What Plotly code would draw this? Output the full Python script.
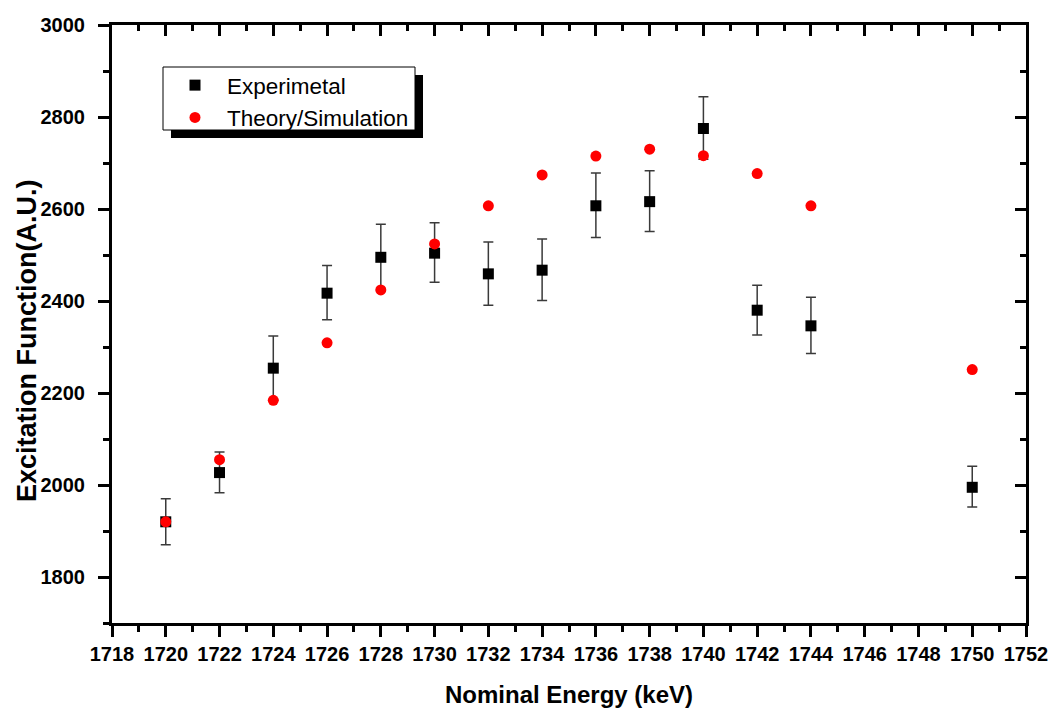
import plotly.graph_objects as go

energy_exp = [1720, 1722, 1724, 1726, 1728, 1730, 1732, 1734, 1736, 1738, 1740, 1742, 1744, 1750]
exp_values = [1920, 2027, 2254, 2417, 2495, 2504, 2459, 2467, 2607, 2616, 2775, 2380, 2346, 1995]
exp_err_plus = [50, 45, 70, 60, 72, 66, 69, 68, 71, 67, 69, 54, 62, 46]
exp_err_minus = [50, 44, 69, 58, 71, 63, 68, 66, 69, 65, 67, 54, 60, 43]

energy_sim = [1720, 1722, 1724, 1726, 1728, 1730, 1732, 1734, 1736, 1738, 1740, 1742, 1744, 1750]
sim_values = [1920, 2055, 2184, 2309, 2424, 2524, 2607, 2674, 2715, 2730, 2716, 2677, 2607, 2251]

x_ticks = list(range(1718, 1753, 2))
y_ticks = list(range(1800, 3001, 200))
x_range = [1718, 1752]
y_range = [1700, 3000]

FONT = "Liberation Sans, Arial, sans-serif"
L, R, T, B = 112, 25, 25, 86
W, H = 1051, 709
PW, PH = W - L - R, H - T - B


def px_x(p):
    return (p - L) / PW


def px_y(p):
    return 1 - (p - T) / PH


fig = go.Figure()
fig.add_trace(go.Scatter(
    x=energy_exp, y=exp_values, mode="markers", name="Experimetal",
    legendgroup="a",
    marker=dict(symbol="square", size=11, color="black"),
    error_y=dict(type="data", array=exp_err_plus, arrayminus=exp_err_minus,
                 color="#3a3a3a", thickness=1.5, width=5),
))
fig.add_trace(go.Scatter(
    x=energy_sim, y=sim_values, mode="markers", name="Theory/Simulation",
    legendgroup="b",
    marker=dict(symbol="circle", size=11, color="#ff0000"),
))
# empty trace so the mirrored top/right axes get drawn
fig.add_trace(go.Scatter(x=[], y=[], xaxis="x2", yaxis="y2", showlegend=False,
                         hoverinfo="skip", mode="markers"))

axis_common = dict(showgrid=False, zeroline=False, showline=True, linecolor="black",
                   linewidth=3, tickcolor="black", tickwidth=3, ticklen=11, automargin=False)

fig.update_layout(
    width=W, height=H,
    margin=dict(l=L, r=R, t=T, b=B),
    paper_bgcolor="white", plot_bgcolor="white",
    font=dict(family=FONT, color="black"),
    xaxis=dict(range=x_range, tickvals=x_ticks, ticks="outside",
               minor=dict(dtick=1, tick0=1718, ticks="outside", ticklen=6, tickwidth=3, tickcolor="black"),
               tickfont=dict(family=FONT, size=20, weight="bold"),
               ticklabelstandoff=0,
               title=dict(text="Nominal Energy (keV)", font=dict(family=FONT, size=24, weight="bold"),
                          standoff=23),
               **axis_common),
    yaxis=dict(range=y_range, tickvals=y_ticks, ticks="outside",
               minor=dict(dtick=100, tick0=1700, ticks="outside", ticklen=6, tickwidth=3, tickcolor="black"),
               tickfont=dict(family=FONT, size=20, weight="bold"),
               ticklabelstandoff=9,
               **axis_common),
    xaxis2=dict(range=x_range, overlaying="x", side="top", anchor="y",
                tickvals=x_ticks, ticks="inside", showticklabels=False,
                minor=dict(dtick=1, tick0=1718, ticks="inside", ticklen=6, tickwidth=3, tickcolor="black"),
                **axis_common),
    yaxis2=dict(range=y_range, overlaying="y", side="right", anchor="x",
                tickvals=y_ticks, ticks="inside", showticklabels=False,
                minor=dict(dtick=100, tick0=1700, ticks="inside", ticklen=6, tickwidth=3, tickcolor="black"),
                **axis_common),
    showlegend=True,
    legend=dict(x=px_x(163), y=px_y(64), xanchor="left", yanchor="top",
                bgcolor="rgba(0,0,0,0)", borderwidth=0, itemwidth=54,
                tracegroupgap=0,
                font=dict(family=FONT, size=22.5, color="black")),
    annotations=[
        dict(text="Excitation Function(A.U.)", textangle=-90, showarrow=False,
             xref="paper", yref="paper", x=px_x(27), y=px_y(341),
             xanchor="center", yanchor="middle",
             font=dict(family=FONT, size=27, weight="bold", color="black")),
    ],
    shapes=[
        dict(type="rect", xref="paper", yref="paper",
             x0=px_x(171), x1=px_x(423), y0=px_y(138), y1=px_y(75),
             fillcolor="black", line=dict(width=0), layer="above"),
        dict(type="rect", xref="paper", yref="paper",
             x0=px_x(163), x1=px_x(415), y0=px_y(130), y1=px_y(67),
             fillcolor="white", line=dict(color="black", width=1), layer="above"),
    ],
)

fig.write_html("out.html")
